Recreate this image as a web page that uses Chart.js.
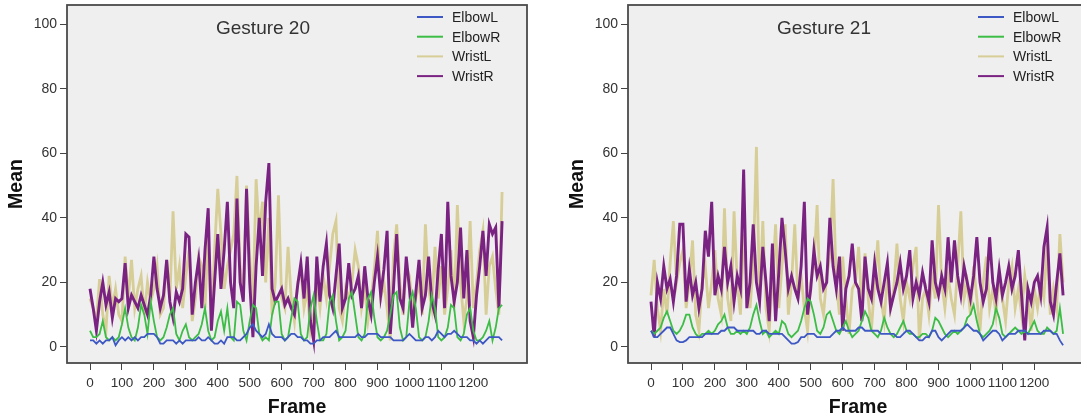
<!DOCTYPE html>
<html lang="en">
<head>
<meta charset="UTF-8">
<title>Gesture 20 / Gesture 21</title>
<script src="https://cdn.jsdelivr.net/npm/chart.js"></script>
<style>
  html, body { margin: 0; padding: 0; background: #fff; overflow: hidden; }
  body { width: 1081px; height: 419px; position: relative; }
  .panel { position: absolute; top: 0; width: 540px; height: 419px; }
  #p20 { left: 0; }
  #p21 { left: 561px; }
</style>
</head>
<body>
<div class="panel" id="p20"><canvas id="chart20" width="540" height="419"></canvas></div>
<div class="panel" id="p21"><canvas id="chart21" width="540" height="419"></canvas></div>
<script>
// frame index (one sample every 10 frames)
const frames = [
  0,10,20,30,40,50,60,70,80,90,
  100,110,120,130,140,150,160,170,180,190,
  200,210,220,230,240,250,260,270,280,290,
  300,310,320,330,340,350,360,370,380,390,
  400,410,420,430,440,450,460,470,480,490,
  500,510,520,530,540,550,560,570,580,590,
  600,610,620,630,640,650,660,670,680,690,
  700,710,720,730,740,750,760,770,780,790,
  800,810,820,830,840,850,860,870,880,890,
  900,910,920,930,940,950,960,970,980,990,
  1000,1010,1020,1030,1040,1050,1060,1070,1080,1090,
  1100,1110,1120,1130,1140,1150,1160,1170,1180,1190,
  1200,1210,1220,1230,1240,1250,1260,1270,1280,1290
];
const xTicks = [0,100,200,300,400,500,600,700,800,900,1000,1100,1200];
const yTicks = [0,20,40,60,80,100];
const seriesNames = ['ElbowL', 'ElbowR', 'WristL', 'WristR'];

// Gesture 20
const g20ElbowL = [
  2,2,1,2,1,2,2,3,0.5,2,
  3,2,3,2,3,2,3,3,4,4,
  4,3,1,1,2,2,2,1,2,1,
  2,2,2,2,3,2,2,3,2,1,
  1,2,1,3,3,3,2,2,3,4,
  6,7,5,4,3,4,7,4,3,3,
  3,2,3,4,4,3,3,2,2,1,
  1,2,2,3,3,3,4,5,3,3,
  3,3,3,3,4,3,3,4,4,4,
  4,3,3,3,3,2,2,2,2,3,
  4,3,2,2,2,3,3,2,3,5,
  4,3,4,4,5,4,3,3,3,2,
  2,1,2,1,2,3,3,3,3,2
];
const g20ElbowR = [
  5,3,3,4,8,3,2,3,2,3,
  7,12,6,3,2,6,13,10,4,14,
  8,3,2,3,6,10,12,4,2,5,
  7,3,2,3,4,7,12,5,2,3,
  8,11,5,12,3,2,14,13,5,2,
  8,13,12,4,2,3,2,10,14,14,
  4,2,3,9,15,14,4,2,3,12,
  16,8,2,2,4,14,16,8,2,3,
  5,15,17,10,3,2,4,15,17,9,
  3,2,3,5,10,16,17,6,2,3,
  14,17,12,3,2,3,8,16,12,3,
  2,3,6,13,12,3,2,4,10,12,
  5,2,2,3,5,8,2,6,12,13
];
const g20WristL = [
  15,12,8,21,10,5,22,12,18,10,
  8,28,15,27,12,18,22,10,20,14,
  18,25,10,12,27,15,42,18,25,12,
  22,30,8,15,28,25,12,35,8,30,
  49,35,18,25,30,35,53,25,15,50,
  28,12,52,35,45,20,40,10,20,47,
  15,12,31,15,8,20,24,12,18,5,
  10,20,12,22,15,25,35,39,12,8,
  18,15,20,30,25,12,18,8,15,24,
  36,15,20,12,2,28,38,20,10,25,
  22,12,15,20,10,38,18,12,31,15,
  25,10,18,30,12,44,20,8,15,39,
  12,20,30,36,10,25,28,18,10,48
];
const g20WristR = [
  18,12,5,14,20,13,17,9,15,14,
  15,26,12,16,14,12,16,13,10,16,
  28,18,12,16,27,14,9,17,14,18,
  35,34,10,20,27,12,30,43,5,20,
  35,18,30,45,20,12,46,20,14,49,
  20,3,25,40,22,45,57,18,14,16,
  18,13,15,12,10,19,26,15,28,8,
  2,28,14,25,32,16,12,22,32,12,
  15,26,16,18,22,12,25,15,10,20,
  28,16,24,36,4,18,35,15,12,28,
  18,6,17,27,12,16,28,14,10,24,
  35,12,45,22,14,20,37,15,30,8,
  3,16,25,36,22,38,35,37,12,39
];

// Gesture 21
const g21ElbowL = [
  5,3,3,4,5,6,6,4,2,1.5,
  1.5,2,3,3,3,3,3,4,4,4,
  4,4,5,5,6,6,6,5,5,5,
  5,5,5,4,4,5,5,4,4,4,
  4,4,3,2,1,1,1.5,3,3,4,
  4,4,3,3,3,3,3,4,5,5,
  6,5,5,5,5,6,6,5,5,5,
  5,5,4,4,4,4,4,3,3,4,
  5,5,4,3,2,2,3,3,5,5,
  3,2,3,4,5,5,5,5,6,7,
  6,5,5,4,2,3,4,5,5,4,
  2,3,4,4,4,5,5,5,4,4,
  4,4,4,5,5,5,4,4,2,0.5
];
const g21ElbowR = [
  5,4,5,6,9,11,8,5,4,5,
  7,10,10,6,4,3,4,4,5,4,
  5,7,8,10,6,4,4,5,4,5,
  4,6,10,13,8,4,5,3,4,5,
  4,8,7,4,3,4,5,8,12,15,
  14,10,5,4,6,10,11,8,5,4,
  6,8,5,3,4,5,8,11,9,5,
  4,3,5,9,6,4,3,4,6,8,
  5,4,4,3,3,4,4,3,5,9,
  8,6,4,3,4,5,4,5,6,9,
  10,13,8,4,3,4,5,7,12,9,
  4,3,4,5,6,5,4,5,4,6,
  8,5,4,4,6,5,4,5,12,4
];
const g21WristL = [
  16,27,12,5,18,10,26,39,20,26,
  30,12,20,33,10,5,20,25,12,20,
  30,15,10,43,15,8,42,20,10,35,
  20,12,25,62,15,39,12,5,20,38,
  12,25,38,10,20,38,15,22,12,5,
  20,25,44,15,10,22,28,52,20,10,
  28,15,4,18,20,31,12,29,15,5,
  20,33,15,8,22,12,18,32,15,8,
  20,15,25,31,2,15,18,10,22,15,
  44,20,12,22,15,10,25,42,15,20,
  10,25,15,5,20,28,12,18,10,22,
  15,8,20,25,12,18,10,22,15,5,
  18,12,20,15,32,10,18,12,35,20
];
const g21WristR = [
  14,3,20,15,25,18,21,14,22,38,
  38,14,24,16,20,12,18,36,28,45,
  16,22,18,31,20,25,14,22,18,55,
  12,20,38,20,14,31,20,8,32,8,
  23,40,30,18,22,18,15,25,45,10,
  18,30,22,25,18,20,40,25,18,28,
  5,18,22,32,20,18,8,28,18,15,
  26,18,14,20,26,12,16,20,26,18,
  22,30,15,20,16,23,18,14,33,20,
  16,22,18,34,20,33,22,16,25,20,
  15,22,34,20,14,18,34,20,15,24,
  16,20,25,18,22,30,16,2,18,14,
  20,22,16,31,37,14,10,20,29,16
];

const FONT = '"Liberation Sans", Arial, sans-serif';
const lineColors = ['#3d58c4', '#3cbd45', '#d7cd97', '#7a2282'];
const lineWidths = [1.8, 1.8, 2.8, 2.9];
const drawOrder = [0, 1, 3, 2]; // WristL underneath, ElbowL on top

function pairs(vals) {
  return frames.map((f, i) => ({ x: f, y: vals[i] }));
}

// grey plot box, frame, title and legend inside the plot
const panelPlugin = {
  id: 'panel',
  beforeDraw(chart) {
    const { ctx, chartArea: a } = chart;
    ctx.save();
    ctx.fillStyle = '#efefef';
    ctx.fillRect(a.left, a.top, a.right - a.left, a.bottom - a.top);
    ctx.restore();
  },
  afterDraw(chart, args, opts) {
    const { ctx, chartArea: a } = chart;
    ctx.save();
    ctx.strokeStyle = '#4a4a4a';
    ctx.lineWidth = 1.8;
    ctx.strokeRect(a.left, a.top, a.right - a.left, a.bottom - a.top);

    ctx.fillStyle = '#333';
    ctx.font = '19px ' + FONT;
    ctx.textAlign = 'center';
    ctx.textBaseline = 'middle';
    ctx.fillText(opts.title, a.left + 196, 29);

    ctx.textAlign = 'left';
    ctx.font = '14px ' + FONT;
    seriesNames.forEach((name, i) => {
      const y = 17 + i * 19.7;
      ctx.strokeStyle = lineColors[i];
      ctx.lineWidth = 2;
      ctx.beginPath();
      ctx.moveTo(a.left + 350, y);
      ctx.lineTo(a.left + 376, y);
      ctx.stroke();
      ctx.fillStyle = '#222';
      ctx.fillText(name, a.left + 385, y + 1);
    });
    ctx.restore();
  }
};

function makeChart(id, title, series) {
  const ctx = document.getElementById(id).getContext('2d');
  return new Chart(ctx, {
    type: 'line',
    data: {
      datasets: series.map((vals, i) => ({
        label: seriesNames[i],
        data: pairs(vals),
        borderColor: lineColors[i],
        borderWidth: lineWidths[i],
        order: drawOrder[i],
        pointRadius: 0,
        tension: 0,
        fill: false
      }))
    },
    options: {
      responsive: false,
      animation: false,
      events: [],
      layout: { padding: { left: 0, top: 5, right: 13, bottom: 0 } },
      plugins: {
        legend: { display: false },
        tooltip: { enabled: false },
        panel: { title: title }
      },
      scales: {
        x: {
          type: 'linear',
          min: -72,
          max: 1368,
          afterBuildTicks(scale) { scale.ticks = xTicks.map(v => ({ value: v })); },
          afterFit(scale) { scale.height = 56; scale.paddingLeft = 0; scale.paddingRight = 0; },
          ticks: {
            color: '#333', font: { family: FONT, size: 13.5 }, padding: 5,
            maxRotation: 0, autoSkip: false, callback: v => String(v)
          },
          grid: { display: true, drawOnChartArea: false, drawTicks: true, tickLength: 7, color: '#444' },
          border: { display: false },
          title: {
            display: true, text: 'Frame', color: '#111',
            font: { family: FONT, size: 19.5, weight: 'bold' }, padding: { top: 0, bottom: 0 }
          }
        },
        y: {
          type: 'linear',
          min: -5,
          max: 106,
          afterBuildTicks(scale) { scale.ticks = yTicks.map(v => ({ value: v })); },
          afterFit(scale) { scale.width = 67; scale.paddingTop = 0; scale.paddingBottom = 0; },
          ticks: { color: '#333', font: { family: FONT, size: 14 }, padding: 3, callback: v => String(v) },
          grid: { display: true, drawOnChartArea: false, drawTicks: true, tickLength: 7, color: '#444' },
          border: { display: false },
          title: {
            display: true, text: 'Mean', color: '#111',
            font: { family: FONT, size: 19.5, weight: 'bold' }, padding: { top: 5, bottom: 0 }
          }
        }
      }
    },
    plugins: [panelPlugin]
  });
}

makeChart('chart20', 'Gesture 20', [g20ElbowL, g20ElbowR, g20WristL, g20WristR]);
makeChart('chart21', 'Gesture 21', [g21ElbowL, g21ElbowR, g21WristL, g21WristR]);
</script>
</body>
</html>
